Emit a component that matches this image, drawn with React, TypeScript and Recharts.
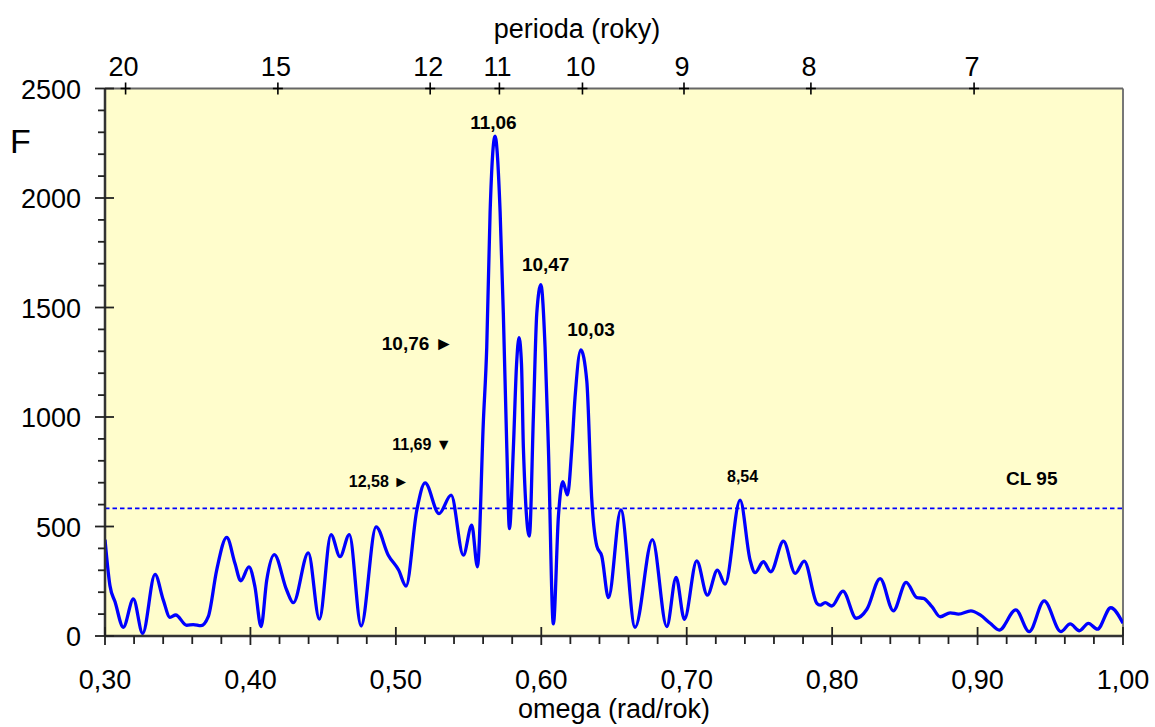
import { LineChart, Line, XAxis, YAxis, CartesianGrid, ReferenceLine, ReferenceDot, Label } from 'recharts'

const FONT = '"Liberation Sans", Arial, Helvetica, sans-serif'

// omega (rad/rok) and F
const omega = [
  0.300, 0.3034, 0.3069, 0.3126, 0.3195, 0.3259, 0.3344, 0.3401, 0.3447, 0.3486,
  0.3562, 0.3607, 0.3660, 0.3710, 0.3768, 0.3837, 0.3894, 0.3933, 0.3990, 0.4031,
  0.4073, 0.4112, 0.4164, 0.4249, 0.4295, 0.4398, 0.4474, 0.4554, 0.4616, 0.4680,
  0.4761, 0.4864, 0.4948, 0.5019, 0.5070, 0.5144, 0.5201, 0.5297, 0.5380, 0.5464,
  0.5522, 0.5561, 0.5602, 0.5625, 0.5648, 0.5682, 0.5717, 0.5739, 0.5763, 0.5781,
  0.5808, 0.5830, 0.5847, 0.5864, 0.5877, 0.5918, 0.5946, 0.5969, 0.5997, 0.6026,
  0.6049, 0.6083, 0.6118, 0.6148, 0.6180, 0.6210, 0.6232, 0.6272, 0.6313, 0.6347,
  0.6382, 0.6416, 0.6462, 0.6547, 0.6645, 0.6764, 0.6863, 0.6927, 0.6984, 0.7069,
  0.7142, 0.7211, 0.7264, 0.7367, 0.7436, 0.7470, 0.7527, 0.7578, 0.7665, 0.7746,
  0.7808, 0.7895, 0.7918, 0.7952, 0.7998, 0.8074, 0.8166, 0.8239, 0.8330, 0.8421,
  0.8509, 0.8583, 0.8628, 0.8686, 0.8743, 0.8812, 0.8869, 0.8954, 0.9018, 0.9087,
  0.9149, 0.9263, 0.9355, 0.9458, 0.9573, 0.9637, 0.9700, 0.9762, 0.9824, 0.9916,
  1.000,
]
const fValues = [
  440, 230, 156, 40, 169, 12, 281, 164, 85, 96,
  49, 52, 47, 88, 301, 450, 331, 252, 316, 225,
  43, 255, 372, 210, 152, 380, 77, 463, 362, 463,
  46, 498, 369, 301, 228, 574, 699, 559, 643, 369,
  506, 316, 984, 1319, 1935, 2282, 1935, 1473, 857, 490,
  857, 1240, 1362, 1240, 857, 456, 1010, 1473, 1604, 1319,
  857, 55, 548, 705, 644, 857, 1088, 1306, 1164, 625,
  410, 364, 175, 576, 40, 440, 43, 268, 76, 343,
  187, 301, 237, 620, 346, 289, 339, 293, 433, 286,
  342, 149, 141, 152, 137, 205, 81, 122, 262, 115,
  245, 175, 172, 134, 88, 106, 100, 115, 96, 58,
  27, 119, 20, 160, 20, 55, 24, 58, 31, 129,
  58,
]

const periodTicks = [20, 15, 12, 11, 10, 9, 8, 7]
const omegaMajor = [0.3, 0.4, 0.5, 0.6, 0.7, 0.8, 0.9, 1.0]
const fMajor = [0, 500, 1000, 1500, 2000, 2500]
const CL95 = 583

// peak labels: text, anchor omega, anchor F
const annotTexts = ['11,06', '10,47', '10,03', '10,76 ►', '11,69 ▼', '12,58 ►', '8,54', 'CL 95']
const annotOmega = [0.5671, 0.6030, 0.6342, 0.5396, 0.5384, 0.5091, 0.7384, 0.9373]
const annotF = [2315, 1668, 1372, 1304, 848, 679, 702, 688]

const data = omega.map((w, i) => ({ omega: w, F: fValues[i] }))

const xTicks = omegaMajor.flatMap((m, i) =>
  i < omegaMajor.length - 1 ? [m, m + 0.02, m + 0.04, m + 0.06, m + 0.08] : [m])
const yTicks = fMajor.flatMap((m, i) =>
  i < fMajor.length - 1 ? [m, m + 100, m + 200, m + 300, m + 400] : [m])
const topTicks = periodTicks.map(p => (2 * Math.PI) / p)

const BottomTick = ({ x, y, payload }: any) => {
  const v = payload.value
  const major = Math.abs(v * 10 - Math.round(v * 10)) < 1e-6
  return (
    <g>
      <line x1={x} x2={x} y1={major ? y - 9 : y} y2={y + (major ? 9 : 8)} stroke="#222" strokeWidth={1.8} />
      {major && (
        <text x={x} y={y + 53} textAnchor="middle" fontSize={27} fontFamily={FONT} fill="#000">
          {v.toFixed(2).replace('.', ',')}
        </text>
      )}
    </g>
  )
}

const LeftTick = ({ x, y, payload }: any) => {
  const v = payload.value
  const major = v % 500 === 0
  return (
    <g>
      <line x1={x - (major ? 10 : 7)} x2={major ? x + 9 : x} y1={y} y2={y} stroke="#222" strokeWidth={1.8} />
      {major && (
        <text x={x - 24} y={y + 10} textAnchor="end" fontSize={27} fontFamily={FONT} fill="#000">{v}</text>
      )}
    </g>
  )
}

const TopTick = ({ x, y, payload }: any) => {
  const p = Math.round((2 * Math.PI) / payload.value)
  return (
    <g>
      <line x1={x - 5} x2={x + 5} y1={y} y2={y} stroke="#000" strokeWidth={1.6} />
      <line x1={x} x2={x} y1={y - 6} y2={y + 6} stroke="#000" strokeWidth={1.6} />
      <text x={x - 2} y={y - 12.5} textAnchor="middle" fontSize={27} fontFamily={FONT} fill="#000">{p}</text>
    </g>
  )
}

export default function App() {
  return (
    <div style={{ position: 'absolute', left: 0, top: 0, background: '#fff' }}>
      <LineChart width={1155} height={727} data={data} margin={{ top: 8.5, right: 32, bottom: 6, left: 5 }}>
        <CartesianGrid fill="#FFFDCC" horizontal={false} vertical={false} stroke="none" />
        <XAxis
          dataKey="omega" type="number" domain={[0.3, 1]} ticks={xTicks} interval={0}
          tick={<BottomTick />} tickLine={false} tickSize={0} tickMargin={0}
          axisLine={{ stroke: '#333', strokeWidth: 2.5 }} height={85} allowDataOverflow
        >
          <Label value="omega (rad/rok)" position="insideBottom" offset={3} fontSize={27} fill="#000" fontFamily={FONT} />
        </XAxis>
        <XAxis
          xAxisId="top" orientation="top" dataKey="omega" type="number" domain={[0.3, 1]}
          ticks={topTicks} interval={0} tick={<TopTick />} tickLine={false} tickSize={0} tickMargin={0}
          axisLine={{ stroke: '#666', strokeWidth: 2 }} height={80} allowDataOverflow
        >
          <Label
            content={(props: any) => {
              const vb = props.viewBox ?? { x: 105, y: 8.5, width: 1018, height: 80 }
              return (
                <text x={vb.x + vb.width / 2 - 37} y={vb.y + 29.5} textAnchor="middle" fontSize={27} fontFamily={FONT} fill="#000">
                  perioda (roky)
                </text>
              )
            }}
          />
        </XAxis>
        <YAxis
          type="number" domain={[0, 2500]} ticks={yTicks} interval={0} tick={<LeftTick />}
          tickLine={false} tickSize={0} tickMargin={0} axisLine={{ stroke: '#333', strokeWidth: 2.5 }}
          width={100} allowDataOverflow
        >
          <Label
            content={(props: any) => {
              const vb = props.viewBox ?? { x: 5, y: 88.5, width: 100, height: 547.5 }
              return (
                <text x={vb.x + 5} y={vb.y + 64.5} fontSize={34} fontFamily={FONT} fill="#000">F</text>
              )
            }}
          />
        </YAxis>
        <ReferenceLine x={1} stroke="#777" strokeWidth={2} />
        <ReferenceLine y={CL95} stroke="#0000FF" strokeWidth={1.8} strokeDasharray="4.5 3" />
        <Line type="monotone" dataKey="F" stroke="#0000FF" strokeWidth={3.3} dot={false} isAnimationActive={false} />
        {annotTexts.map((t, i) => {
          const arrow = t.includes('►') || t.includes('▼')
          const small = i === 4 || i === 5 || i === 6
          return (
            <ReferenceDot
              key={t}
              x={annotOmega[i]}
              y={annotF[i]}
              r={0}
              ifOverflow="visible"
              shape={(p: any) => (
                <text
                  x={p.cx} y={p.cy} textAnchor={arrow ? 'end' : 'middle'}
                  fontSize={small ? 16 : 19} fontWeight={700} fontFamily={FONT} fill="#000"
                >
                  {t}
                </text>
              )}
            />
          )
        })}
      </LineChart>
    </div>
  )
}
